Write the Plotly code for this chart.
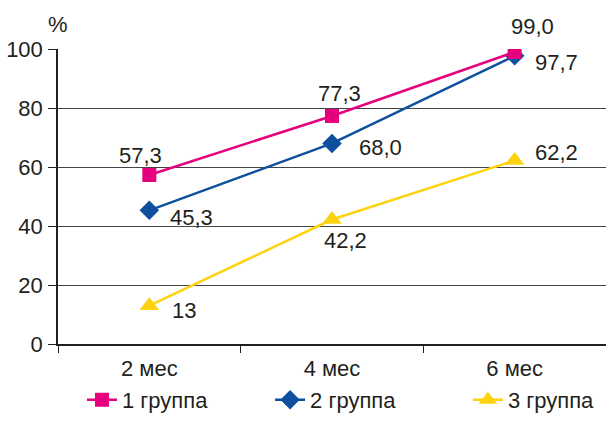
import plotly.graph_objects as go

categories = ["2 мес", "4 мес", "6 мес"]
group1 = [57.3, 77.3, 99.0]
group2 = [45.3, 68.0, 97.7]
group3 = [13.0, 42.2, 62.2]
labels1 = ["57,3", "77,3", "99,0"]
labels2 = ["45,3", "68,0", "97,7"]
labels3 = ["13", "42,2", "62,2"]
names = ["1 группа", "2 группа", "3 группа"]
y_ticks = [0, 20, 40, 60, 80, 100]

colors = ["#E6007E", "#0E4F9E", "#FDD30F"]
symbols = ["square", "diamond", "triangle-up"]
sizes = [14, 15, 17]
legend_ids = ["legend", "legend2", "legend3"]
FONT = "Liberation Sans, Arial, sans-serif"
TXT = "#231F20"
FS = 22

fig = go.Figure()
series = [group1, group2, group3]
# draw order: 3, 2, 1 so pink lies on top
for i in [2, 1, 0]:
    fig.add_trace(go.Scatter(
        x=categories, y=series[i], name=names[i], mode="lines+markers",
        line=dict(color=colors[i], width=2.5),
        marker=dict(color=colors[i], symbol=symbols[i], size=sizes[i]),
        legend=legend_ids[i],
    ))

offsets1 = [(-8.5, -19.5), (7, -22), (18, -25)]
offsets2 = [(42, 7), (48, 4.5), (41.5, 6.5)]
offsets3 = [(35, 4.5), (13, 21), (41.5, -8)]
for vals, labs, offs in [(group1, labels1, offsets1), (group2, labels2, offsets2), (group3, labels3, offsets3)]:
    for cat, v, lab, (dx, dy) in zip(categories, vals, labs, offs):
        fig.add_annotation(x=cat, y=v, text=lab, showarrow=False,
                           xshift=dx, yshift=-dy,
                           font=dict(size=FS, color=TXT, family=FONT))

fig.add_annotation(x=0, y=1, xref="paper", yref="paper", text="%", showarrow=False,
                   xanchor="center", yanchor="bottom", yshift=10, xshift=0,
                   font=dict(size=FS, color=TXT, family=FONT))

leg_common = dict(orientation="h", xanchor="left", yanchor="bottom", y=-0.2605,
                  bgcolor="rgba(0,0,0,0)", font=dict(size=FS, color=TXT, family=FONT))
fig.update_layout(
    width=606, height=421,
    margin=dict(l=58, r=0, t=49, b=77, autoexpand=False),
    paper_bgcolor="white", plot_bgcolor="white",
    font=dict(family=FONT, size=FS, color=TXT),
    showlegend=True,
    legend=dict(x=0.0438, **leg_common),
    legend2=dict(x=0.387, **leg_common),
    legend3=dict(x=0.748, **leg_common),
    xaxis=dict(type="category", range=[-0.5, 2.5], showline=True, linecolor="#231F20",
               linewidth=1.5, ticks="outside", tickson="boundaries", ticklen=7,
               tickcolor="#231F20", showgrid=False, zeroline=False,
               ticklabelstandoff=4,
               tickfont=dict(size=FS, color=TXT, family=FONT)),
    yaxis=dict(range=[0, 100], tickvals=y_ticks, showline=True, linecolor="#231F20",
               linewidth=1.5, ticks="outside", ticklen=8, tickcolor="#231F20",
               ticklabelstandoff=1,
               showgrid=True, gridcolor="#444444", gridwidth=1, zeroline=False,
               tickfont=dict(size=FS, color=TXT, family=FONT)),
)

fig.write_html("out.html")
